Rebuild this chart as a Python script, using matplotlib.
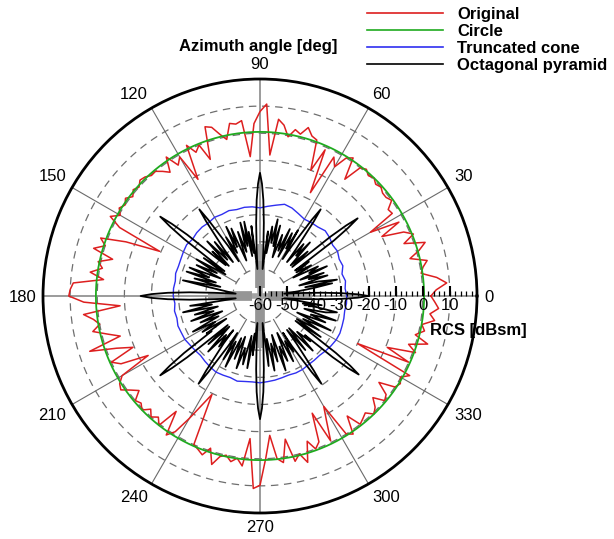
import numpy as np
import matplotlib
matplotlib.use("Agg")
import matplotlib.pyplot as plt
from matplotlib.lines import Line2D

plt.rcParams['font.family'] = ['Liberation Sans', 'DejaVu Sans']

# radial axis (dBsm) and angle axis (deg)
r_min, r_max = -60, 20
ring_values = [-50, -40, -30, -20, -10, 0, 10]
r_tick_values = [-60, -50, -40, -30, -20, -10, 0, 10]
r_tick_labels = ['-60', '-50', '-40', '-30', '-20', '-10', '0', '10']
angle_ticks = list(range(0, 360, 30))
angle_labels = [str(a) for a in angle_ticks]

series_names = ['Original', 'Circle', 'Truncated cone', 'Octagonal pyramid']
series_colors = ['#dd1f1f', '#1faa1f', '#2f2ff0', '#000000']

# Original shape, read every 2 deg
original_deg = np.arange(0, 360, 2)
original_db = [
    3, 5, 9, 5.5, 0, 1, 3, -3, 1, 4,
    -3.5, 1, -2, -10, -2, -13, -2.5, -3, 0, -1,
    -1, 0, -0.7, 0.5, -0.3, 1, 0, -6.8, 1.4, 0,
    -5, -2, -17.6, -1, -10, 1.2, 2, 4.6, 1.5, 2.7,
    -0.4, 3.6, 5.5, -7.9, 10.8, 8, 3.6, -8.5, 5, 4,
    4.6, -1, 1.5, 4.7, 5.6, -6.4, 0, -2, 1.8, -11.3,
    -0.8, -3.1, 1.8, -3.6, -1.7, 0, -0.2, 1, 1.5, 0,
    1, -0.5, 1.3, 0, 1.2, -0.5, 2.5, -2.4, -19.5, -6.7,
    2.5, 0, 3.8, -4, 1, -1, 3.2, -2, 9, 10,
    10.5, 5, -8.3, 5.4, 2, 0, 3, -2, -6.4, 6,
    -3.7, -9.5, 0, -3, -13.3, -1.3, 1, 1.9, -1, -3.4,
    0, -1, 0.5, -2, 0, -1.7, 0.5, -7.4, 1.8, -1,
    -7.9, -14.6, -19.6, 0, 1, 2.3, -1, 4.6, 1, 0,
    2, 0.4, 3, -7.3, 11, 9.8, 0, -8.5, 0.3, 2,
    -6.4, 2.3, 0, 3.8, -3.7, 0, -2, -12.7, -0.6, -7.7,
    -13, 0, 1.4, -5.3, 0, -1, -2, 0.5, -1, -4,
    0, -1, -5.8, 0, 1, -0.2, 2.5, -20, 0, -9.4,
    1, -2.4, 4.3, -1, 2, 0.6, 5, 3, 6, 4.5,
]

# Circle: constant RCS
circle_db = 0.5

# Truncated cone, every 5 deg
cone_deg = np.arange(0, 360, 5)
cone_db = [
    -28, -28.5, -28, -28.7, -27.5, -27.8, -27, -27.3, -26.5, -26,
    -26.8, -27, -27.3, -26.5, -25.5, -25, -26, -26.8, -27.5, -27,
    -26.8, -27, -26.5, -26.8, -26.5, -27, -26.8, -27, -27.5, -27,
    -27.4, -27.8, -28, -27.8, -28.3, -28, -28, -28.5, -28, -28.3,
    -27.8, -28, -28, -28.5, -28.8, -29, -28.5, -28, -27.6, -27.8,
    -28, -27.5, -28, -28.2, -28, -28.3, -28.5, -28.8, -29, -28.7,
    -28.7, -29, -29, -29, -28.5, -28, -27.6, -27.5, -27.8, -28,
    -28.3, -28,
]

# Octagonal pyramid (deg, dBsm), lobes sampled more finely
pyramid_pts = [
    (0, -20), (1, -24), (2, -30), (3, -37), (4, -44), (5.5, -51), (7, -46),
    (8.5, -40), (10, -33), (11, -43), (12, -31), (14, -38), (15, -45), (17, -34),
    (19, -41), (20, -35), (22, -44), (24, -33), (25, -40), (27, -36), (29, -46),
    (31, -38), (33, -44), (35, -38), (36, -44), (36.9, -26), (37.7, -19),
    (38.5, -14), (39.3, -19), (40.1, -26), (41, -38), (42, -44), (43, -36),
    (45, -44), (47, -33), (48, -40), (50, -35), (51.5, -44), (52.5, -38),
    (53.4, -33), (54.2, -26), (55, -21), (55.8, -26), (56.6, -33), (57.5, -38),
    (58.5, -44), (60, -32), (61, -40), (63, -34), (65, -44), (66, -33), (68, -42),
    (70, -36), (72, -45), (74, -33), (75, -41), (77, -31), (78, -40), (80, -34),
    (81.5, -44), (83, -36), (84.5, -50), (86, -42), (87, -33), (88, -24.6),
    (89, -18.6), (90, -14.6),
    (91, -18.6), (92, -24.6), (93, -33), (94, -42), (95.5, -50), (97, -34),
    (98, -44), (100, -36), (101, -45), (102, -32), (104, -41), (105, -32),
    (107, -43), (109, -35), (111, -46), (113, -33), (115, -40), (116, -31.6),
    (118, -42), (120, -35), (121.5, -45), (122.5, -38), (123.4, -33),
    (124.2, -26), (125, -21), (125.8, -26), (126.6, -33), (127.5, -38),
    (128.5, -44), (130, -34), (132, -42), (134, -32), (136, -44), (137, -36),
    (138, -43), (139, -38), (139.9, -25), (140.7, -18), (141.5, -13),
    (142.3, -18), (143.1, -25), (144, -38), (145, -44), (146, -35), (148, -45),
    (150, -33), (152, -42), (154, -34), (156, -44), (158, -32), (160, -40),
    (161.6, -31.5), (163, -43), (165, -35), (167, -45), (168.5, -31), (170, -40),
    (172, -47), (174.5, -51), (176, -43), (177, -34), (178, -26), (179, -20),
    (180, -16),
    (181, -20), (182, -26), (183, -34), (184, -43), (185.5, -51), (187, -45),
    (188, -34), (190, -42), (192, -31), (194, -44), (196, -35), (198, -42),
    (200, -33), (202, -45), (204, -36), (206, -43), (208, -32), (210, -41),
    (212, -35), (214, -45), (215, -36), (216, -38), (216.9, -25), (217.7, -18),
    (218.5, -13), (219.3, -18), (220.1, -25), (221, -38), (222, -44), (223, -34),
    (225, -44), (227, -32), (229, -41), (231, -36), (232, -44), (232.5, -38),
    (233.4, -33), (234.2, -26), (235, -20.5), (235.8, -26), (236.6, -33),
    (237.5, -38), (238.5, -44), (240, -33), (242, -41), (244, -31), (246, -43),
    (248, -35), (250, -44), (252, -32), (254, -40), (256, -34), (258, -45),
    (260, -33), (262, -46), (263, -38), (264.5, -50), (266, -42), (267, -33),
    (268, -24.6), (269, -18.6), (270, -14.6),
    (271, -18.6), (272, -24.6), (273, -33), (274, -42), (275.5, -50), (277, -34),
    (279, -44), (281, -32), (283, -42), (285, -35), (287, -45), (289, -31),
    (291, -40), (293, -34), (295, -45), (297, -33), (299, -41), (301, -36),
    (302, -44), (302.5, -38), (303.4, -33), (304.2, -26), (305, -20.5),
    (305.8, -26), (306.6, -33), (307.5, -38), (308.5, -44), (310, -34),
    (312, -44), (314, -32), (316, -41), (318, -35), (319, -38), (319.9, -25),
    (320.7, -18), (321.5, -13.5), (322.3, -18), (323.1, -25), (324, -38),
    (325, -44), (326, -33), (328, -44), (330, -35), (332, -42), (334, -31),
    (336, -45), (338, -34), (340, -40), (342, -30.6), (344, -43), (346, -35),
    (348, -31), (350, -44), (351.5, -37), (353, -46), (354.5, -51), (356, -44),
    (357, -37), (358, -30), (359, -24),
]
pyramid_deg, pyramid_db = zip(*pyramid_pts)


def closed(deg, db):
    deg = np.append(np.asarray(deg, float), deg[0] + 360)
    db = np.append(np.asarray(db, float), db[0])
    return np.deg2rad(deg), db


fig = plt.figure(figsize=(6.14, 5.39), dpi=100)
ax = fig.add_axes([43 / 614, 26 / 539, 434 / 614, 434 / 539], projection='polar')
ax.set_ylim(r_min, r_max)
ax.set_yticks([])
ax.grid(False)
ax.spines['polar'].set_linewidth(2.0)

ax.set_xticks(np.deg2rad(angle_ticks))
ax.set_xticklabels([])
ax.set_xticks(np.deg2rad(np.arange(0, 360, 5)), minor=True)
ax.tick_params(axis='x', which='major', direction='in', length=8, width=2, color='black')
ax.tick_params(axis='x', which='minor', direction='in', length=5, width=0.9, color='black')

# grid: dashed rings and spokes
th = np.linspace(0, 2 * np.pi, 721)
for v in ring_values:
    ax.plot(th, np.full_like(th, v), color='#6e6e6e', lw=0.9, ls=(0, (6, 4.5)), zorder=1)
for a in angle_ticks:
    t = np.deg2rad(a)
    if a % 90:
        ax.plot([t, t], [-50, r_max], color='#6a6a6a', lw=0.8, zorder=1)
    else:
        ax.plot([t, t], [r_min, r_max], color='#808080', lw=1.1, zorder=1)

# gray blocks around the origin along the main axes
for a in (0, 90, 180, 270):
    t = np.deg2rad(a)
    ax.plot([t, t], [r_min, -41], color='#a3a3a3', lw=4, solid_capstyle='butt', zorder=1.5)
    ax.plot([t, t], [-57, -47], color='#959595', lw=7, solid_capstyle='butt', zorder=1.5)

# radial ticks along 0 deg
minor_r = np.arange(r_min, r_max, 2)
ax.plot(np.zeros(len(minor_r)), minor_r, ls='none', marker=2, ms=3.5, mew=0.9,
        color='black', zorder=6, clip_on=False)
ax.plot(np.zeros(len(r_tick_values)), r_tick_values, ls='none', marker=2, ms=7, mew=1.5,
        color='black', zorder=6, clip_on=False)
for v, lab in zip(r_tick_values, r_tick_labels):
    ax.annotate(lab, xy=(0, v), xytext=(0, -1.5), textcoords='offset points',
                ha='center', va='top', fontsize=12, zorder=7)

# angle labels outside the circle
for a, lab in zip(angle_ticks, angle_labels):
    t = np.deg2rad(a)
    c, s = np.cos(t), np.sin(t)
    ha = 'left' if c > 0.1 else ('right' if c < -0.1 else 'center')
    va = 'bottom' if s > 0.1 else ('top' if s < -0.1 else 'center_baseline')
    ax.annotate(lab, xy=(t, r_max), xytext=(5 * c, 5 * s), textcoords='offset points',
                ha=ha, va=va, fontsize=12, annotation_clip=False)

# curves
t_o, v_o = closed(original_deg, original_db)
ax.plot(t_o, v_o, color=series_colors[0], lw=1.1, zorder=2)
ax.plot(th, np.full_like(th, circle_db), color=series_colors[1], lw=1.3, zorder=3)
t_c, v_c = closed(cone_deg, cone_db)
ax.plot(t_c, v_c, color=series_colors[2], lw=1.0, zorder=4)
t_p, v_p = closed(pyramid_deg, pyramid_db)
ax.plot(t_p, v_p, color=series_colors[3], lw=1.3, zorder=5)

# titles
fig.text(258 / 614, 1 - 46 / 539, 'Azimuth angle [deg]', ha='center', va='center',
         fontsize=12, fontweight='bold')
fig.text(478 / 614, 1 - 330 / 539, 'RCS [dBsm]', ha='center', va='center',
         fontsize=12, fontweight='bold')

# legend
for i, (name, col) in enumerate(zip(series_names, series_colors)):
    y = 1 - (13 + 17 * i) / 539
    fig.add_artist(Line2D([367 / 614, 443 / 614], [y, y], transform=fig.transFigure,
                          color=col, lw=1.2))
    fig.text(457 / 614, y, name, ha='left', va='center_baseline', fontsize=12,
             fontweight='bold')

fig.savefig('out.png', dpi=100)
